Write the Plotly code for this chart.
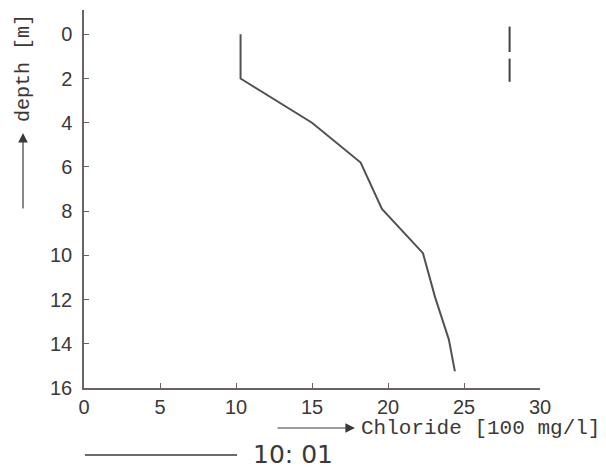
import plotly.graph_objects as go

# Chloride profile with depth
chloride = [10.3, 10.3, 15.0, 18.2, 19.6, 22.3, 23.1, 24.0, 24.4]
depth = [0.0, 2.0, 4.0, 5.8, 7.9, 9.9, 11.9, 13.8, 15.25]

# Short vertical bar marks at the upper right
mark_x = [28.0, 28.0, None, 28.0, 28.0]
mark_y = [-0.35, 0.8, None, 1.1, 2.15]

x_ticks = [0, 5, 10, 15, 20, 25, 30]
y_ticks = [0, 2, 4, 6, 8, 10, 12, 14, 16]

W, H = 606, 471
L, R, T, B = 84, 540, 10, 388  # plot area in pixels


def px(xp):
    return (xp - L) / (R - L)


def py(yp):
    return (B - yp) / (B - T)


ink = "#3c3838"
axis_col = "#6b6264"
tick_font = dict(family="Liberation Sans", size=20, color=ink)
label_font = dict(family="Liberation Mono", size=21, color=ink)

fig = go.Figure()
fig.add_trace(go.Scatter(x=chloride, y=depth, mode="lines",
                         line=dict(color="#555050", width=2), hoverinfo="skip"))
fig.add_trace(go.Scatter(x=mark_x, y=mark_y, mode="lines",
                         line=dict(color="#444040", width=2), hoverinfo="skip"))

fig.update_layout(
    width=W, height=H,
    margin=dict(l=L, r=W - R, t=T, b=H - B, pad=0),
    paper_bgcolor="white", plot_bgcolor="white",
    showlegend=False,
    xaxis=dict(range=[0, 30], tickvals=x_ticks, ticks="inside", ticklen=5,
               tickcolor=axis_col, showline=True, linecolor=axis_col, linewidth=1.5,
               showgrid=False, zeroline=False, tickfont=tick_font, ticklabelstandoff=0),
    yaxis=dict(range=[16, -1.1], tickvals=y_ticks, ticks="inside", ticklen=5,
               tickcolor=axis_col, showline=True, linecolor=axis_col, linewidth=1.5,
               showgrid=False, zeroline=False, tickfont=tick_font, ticklabelstandoff=6),
)

# y-axis label with upward arrow
fig.add_annotation(xref="paper", yref="paper", x=px(23), y=py(68), text="depth [m]",
                   textangle=-90, xanchor="center", yanchor="middle",
                   showarrow=False, font=dict(family="Liberation Mono", size=20, color=ink))
fig.add_annotation(xref="paper", yref="paper", x=px(23), y=py(133), ax=0, ay=77,
                   axref="pixel", ayref="pixel", text="", showarrow=True,
                   arrowhead=2, arrowsize=1.6, arrowwidth=1.2, arrowcolor=ink)

# x-axis label with rightward arrow
fig.add_annotation(xref="paper", yref="paper", x=px(359), y=py(429), text="Chloride [100 mg/l]",
                   xanchor="left", yanchor="middle", showarrow=False, font=label_font)
fig.add_annotation(xref="paper", yref="paper", x=px(355), y=py(428), ax=-79, ay=0,
                   axref="pixel", ayref="pixel", text="", showarrow=True,
                   arrowhead=2, arrowsize=1.6, arrowwidth=1.2, arrowcolor=ink)

# Series key: line sample and ratio text
fig.add_shape(type="line", xref="paper", yref="paper", x0=px(85), x1=px(237),
              y0=py(455), y1=py(455), line=dict(color=ink, width=1.3))
fig.add_annotation(xref="paper", yref="paper", x=px(251), y=py(454), text="10: 01",
                   xanchor="left", yanchor="middle", showarrow=False,
                   font=dict(family="DejaVu Sans", size=25, color=ink))

fig.write_html("out.html")
